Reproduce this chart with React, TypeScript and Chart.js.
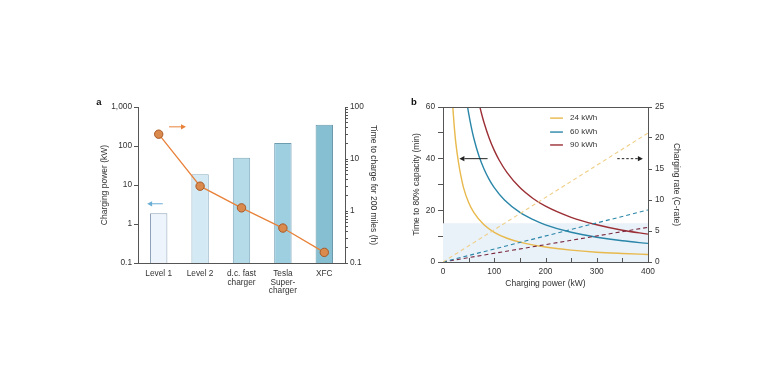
import React, { useEffect, useRef } from 'react';
import { Chart, registerables } from 'chart.js';
Chart.register(...registerables);

// ---------- Panel a data ----------
const chargerCategories: (string | string[])[] = ['Level 1', 'Level 2', ['d.c. fast', 'charger'], ['Tesla', 'Super-', 'charger'], 'XFC'];
const chargingPowerKW = [1.9, 19, 50, 120, 350];
const hoursFor200Miles = [30, 3.0, 1.15, 0.47, 0.16];
const powerAxisTicks = [0.1, 1, 10, 100, 1000];
const hoursAxisTicks = [0.1, 0.2, 0.3, 0.4, 0.5, 0.6, 0.7, 0.8, 0.9, 1, 2, 3, 4, 5, 6, 7, 8, 9, 10, 20, 30, 40, 50, 60, 70, 80, 90, 100];
const hoursAxisLabels = [0.1, 1, 10, 100];

// ---------- Panel b data ----------
const power24 = [19.2, 20, 22, 25, 30, 35, 40, 50, 60, 80, 100, 125, 150, 200, 250, 300, 350, 400];
const time24 = [60, 57.6, 52.4, 46.1, 38.8, 33.2, 28.8, 23.0, 19.2, 14.4, 11.5, 9.2, 7.7, 5.8, 4.6, 3.8, 3.3, 2.9];
const power60 = [48, 50, 55, 60, 70, 80, 90, 100, 120, 150, 175, 200, 250, 300, 350, 400];
const time60 = [60, 57.6, 52.4, 48, 41.1, 36, 32, 28.8, 24, 19.2, 16.5, 14.4, 11.5, 9.6, 8.2, 7.2];
const power90 = [72, 75, 80, 90, 100, 110, 125, 150, 175, 200, 250, 300, 350, 400];
const time90 = [60, 57.6, 54, 48, 43.2, 39.3, 34.6, 28.8, 24.7, 21.6, 17.3, 14.4, 12.3, 10.8];
const ratePower = [0, 400];
const rate24 = [0, 20.8];
const rate60 = [0, 8.4];
const rate90 = [0, 5.6];
const batteryLabels = ['24 kWh', '60 kWh', '90 kWh'];
const fastChargeTargetMin = 15;

// ---------- styles ----------
const FONT = 'Liberation Sans, Arial, Helvetica, sans-serif';
const TXT = '#333333';
const AX = '#555555';
const barFills = ['#eef4fb', '#d3e9f3', '#b5dbe8', '#9dcfe1', '#85bfd1'];
const barBorders = ['#8fa3b8', '#8fb0c2', '#7fa9bb', '#6f9db0', '#6a98aa'];
const ORANGE = '#e8823a';
const YEL = '#e8b94c';
const YEL_D = '#f0cf86';
const BLU = '#2a86a8';
const RED = '#9b2f35';
const RED_D = '#7a2a40';

const pts = (xs: number[], ys: number[]) => xs.map((x, i) => ({ x, y: ys[i] }));

function arrow(ctx: CanvasRenderingContext2D, x1: number, y1: number, x2: number, y2: number, color: string, dashed = false) {
  ctx.save();
  ctx.strokeStyle = color;
  ctx.fillStyle = color;
  ctx.lineWidth = 1;
  const ang = Math.atan2(y2 - y1, x2 - x1);
  const hl = 5, hw = 2.6;
  const bx = x2 - hl * Math.cos(ang), by = y2 - hl * Math.sin(ang);
  if (dashed) ctx.setLineDash([2.5, 2]);
  ctx.beginPath();
  ctx.moveTo(x1, y1);
  ctx.lineTo(bx, by);
  ctx.stroke();
  ctx.setLineDash([]);
  ctx.beginPath();
  ctx.moveTo(x2, y2);
  ctx.lineTo(bx - hw * Math.sin(ang), by + hw * Math.cos(ang));
  ctx.lineTo(bx + hw * Math.sin(ang), by - hw * Math.cos(ang));
  ctx.closePath();
  ctx.fill();
  ctx.restore();
}

const tickFont = { family: FONT, size: 8.3 };
const titleFont = { family: FONT, size: 8.5 };

function PanelA() {
  const ref = useRef<HTMLCanvasElement>(null);
  useEffect(() => {
    const annoA = {
      id: 'annoA',
      afterDatasetsDraw(chart: any) {
        const { ctx, scales } = chart;
        const x = scales.x, y = scales.y;
        arrow(ctx, x.getPixelForValue(0.25), y.getPixelForValue(310), x.getPixelForValue(0.66), y.getPixelForValue(310), ORANGE);
        arrow(ctx, x.getPixelForValue(0.1), y.getPixelForValue(3.3), x.getPixelForValue(-0.28), y.getPixelForValue(3.3), '#6aaed6');
        ctx.save();
        ctx.fillStyle = '#111';
        ctx.font = `bold 9.5px ${FONT}`;
        ctx.textAlign = 'center';
        ctx.textBaseline = 'middle';
        ctx.fillText('a', 19, 12);
        ctx.restore();
      },
    };
    const chart = new Chart(ref.current!, {
      type: 'bar',
      data: {
        labels: chargerCategories as any,
        datasets: [
          {
            type: 'line',
            data: hoursFor200Miles,
            yAxisID: 'y1',
            borderColor: ORANGE,
            borderWidth: 1.3,
            pointRadius: 4.2,
            pointBackgroundColor: '#d98a4c',
            pointBorderColor: '#a85a28',
            pointBorderWidth: 1,
            order: 0,
          } as any,
          {
            type: 'bar',
            data: chargingPowerKW,
            yAxisID: 'y',
            backgroundColor: barFills,
            borderColor: barBorders,
            borderWidth: 1,
            borderSkipped: 'bottom',
            barPercentage: 0.42,
            categoryPercentage: 1,
            order: 1,
          } as any,
        ],
      },
      options: {
        animation: false,
        responsive: false,
        devicePixelRatio: 1,
        layout: { padding: { top: 17, left: 0, right: 0, bottom: 0 } },
        plugins: { legend: { display: false }, tooltip: { enabled: false } },
        scales: {
          x: {
            grid: { display: false, drawTicks: false },
            border: { display: true, color: AX, width: 1 },
            ticks: { font: { family: FONT, size: 8.3, lineHeight: 1.0 }, color: TXT, padding: 7, maxRotation: 0, autoSkip: false },
            afterFit: (s: any) => { s.height = 67; },
          },
          y: {
            type: 'logarithmic',
            position: 'left',
            min: 0.1,
            max: 1000,
            afterBuildTicks: (s: any) => { s.ticks = powerAxisTicks.map((v) => ({ value: v })); },
            ticks: {
              font: tickFont, color: TXT, padding: 2,
              callback: (v: any) => (Number(v) >= 1000 ? '1,000' : String(Number(v))),
            },
            grid: { drawOnChartArea: false, color: AX, tickLength: 4 },
            border: { display: true, color: AX, width: 1 },
            title: { display: true, text: 'Charging power (kW)', font: titleFont, color: TXT, padding: { top: 20, bottom: 0 } },
            afterFit: (s: any) => { s.width = 58; },
          },
          y1: {
            type: 'logarithmic',
            position: 'right',
            min: 0.1,
            max: 100,
            afterBuildTicks: (s: any) => { s.ticks = hoursAxisTicks.map((v) => ({ value: v })); },
            ticks: {
              font: tickFont, color: TXT, padding: 2, autoSkip: false,
              callback: (v: any) => (hoursAxisLabels.includes(Number(v)) ? String(Number(v)) : ''),
            },
            grid: { drawOnChartArea: false, color: AX, tickLength: 3 },
            border: { display: true, color: AX, width: 1 },
            title: { display: true, text: 'Time to charge for 200 miles (h)', font: titleFont, color: TXT, padding: { top: 7, bottom: 0 } },
            afterFit: (s: any) => { s.width = 40; },
          },
        },
      } as any,
      plugins: [annoA],
    });
    return () => chart.destroy();
  }, []);
  return <canvas ref={ref} width={305} height={240} style={{ position: 'absolute', left: 80, top: 90, width: 305, height: 240 }} />;
}

function PanelB() {
  const ref = useRef<HTMLCanvasElement>(null);
  useEffect(() => {
    const annoB = {
      id: 'annoB',
      beforeDatasetsDraw(chart: any) {
        const { ctx, chartArea, scales } = chart;
        const yTop = scales.y.getPixelForValue(fastChargeTargetMin);
        ctx.save();
        ctx.fillStyle = '#e9f1f9';
        ctx.fillRect(chartArea.left, yTop, chartArea.right - chartArea.left, chartArea.bottom - yTop);
        ctx.restore();
      },
      afterDatasetsDraw(chart: any) {
        const { ctx, chartArea, scales } = chart;
        const x = scales.x, y = scales.y;
        ctx.save();
        ctx.strokeStyle = AX;
        ctx.lineWidth = 1;
        ctx.beginPath();
        ctx.moveTo(chartArea.left, chartArea.top + 0.5);
        ctx.lineTo(chartArea.right, chartArea.top + 0.5);
        ctx.stroke();
        for (let v = 50; v < 400; v += 50) {
          const px = Math.round(x.getPixelForValue(v)) + 0.5;
          ctx.beginPath();
          ctx.moveTo(px, chartArea.bottom);
          ctx.lineTo(px, chartArea.bottom - 4);
          ctx.stroke();
        }
        const cols = [YEL, BLU, RED];
        const ly = [55.7, 50.3, 45.3];
        ctx.font = `8px ${FONT}`;
        ctx.textBaseline = 'middle';
        ctx.textAlign = 'left';
        batteryLabels.forEach((lab, i) => {
          const yy = y.getPixelForValue(ly[i]);
          ctx.strokeStyle = cols[i];
          ctx.lineWidth = 1.4;
          ctx.beginPath();
          ctx.moveTo(x.getPixelForValue(209), yy);
          ctx.lineTo(x.getPixelForValue(234), yy);
          ctx.stroke();
          ctx.fillStyle = TXT;
          ctx.fillText(lab, x.getPixelForValue(248), yy);
        });
        ctx.restore();
        arrow(ctx, x.getPixelForValue(87), y.getPixelForValue(40), x.getPixelForValue(32), y.getPixelForValue(40), '#222');
        arrow(ctx, x.getPixelForValue(340), y.getPixelForValue(40), x.getPixelForValue(390), y.getPixelForValue(40), '#222', true);
        ctx.save();
        ctx.fillStyle = '#111';
        ctx.font = `bold 9.5px ${FONT}`;
        ctx.textAlign = 'center';
        ctx.textBaseline = 'middle';
        ctx.fillText('b', 24, 12);
        ctx.restore();
      },
    };
    const lineBase = { pointRadius: 0, borderWidth: 1.4, cubicInterpolationMode: 'monotone', fill: false };
    const dashBase = { pointRadius: 0, borderWidth: 1.1, borderDash: [4, 3], fill: false, yAxisID: 'y1' };
    const chart = new Chart(ref.current!, {
      type: 'line',
      data: {
        datasets: [
          { ...dashBase, data: pts(ratePower, rate24), borderColor: YEL_D } as any,
          { ...dashBase, data: pts(ratePower, rate60), borderColor: BLU } as any,
          { ...dashBase, data: pts(ratePower, rate90), borderColor: RED_D } as any,
          { ...lineBase, data: pts(power24, time24), borderColor: YEL, yAxisID: 'y' } as any,
          { ...lineBase, data: pts(power60, time60), borderColor: BLU, yAxisID: 'y' } as any,
          { ...lineBase, data: pts(power90, time90), borderColor: RED, yAxisID: 'y' } as any,
        ],
      },
      options: {
        animation: false,
        responsive: false,
        devicePixelRatio: 1,
        layout: { padding: { top: 17, left: 0, right: 0, bottom: 0 } },
        plugins: { legend: { display: false }, tooltip: { enabled: false } },
        scales: {
          x: {
            type: 'linear',
            min: 0,
            max: 400,
            ticks: { stepSize: 50, font: tickFont, color: TXT, padding: 5, maxRotation: 0, autoSkip: false,
              callback: (v: any) => (Number(v) % 100 === 0 ? String(v) : '') },
            grid: { display: false, drawTicks: false },
            border: { display: true, color: AX, width: 1 },
            title: { display: true, text: 'Charging power (kW)', font: titleFont, color: TXT, padding: { top: 0, bottom: 21 } },
            afterFit: (s: any) => { s.height = 48; },
          },
          y: {
            position: 'left',
            min: 0,
            max: 60,
            ticks: { stepSize: 10, font: tickFont, color: TXT, padding: 3,
              callback: (v: any) => (Number(v) % 20 === 0 ? String(v) : '') },
            grid: { drawOnChartArea: false, color: AX, tickLength: 5 },
            border: { display: true, color: AX, width: 1 },
            title: { display: true, text: 'Time to 80% capacity (min)', font: titleFont, color: TXT, padding: { top: 22, bottom: 0 } },
            afterFit: (s: any) => { s.width = 53; },
          },
          y1: {
            position: 'right',
            min: 0,
            max: 25,
            ticks: { stepSize: 5, font: tickFont, color: TXT, padding: 3 },
            grid: { drawOnChartArea: false, color: AX, tickLength: 4 },
            border: { display: true, color: AX, width: 1 },
            title: { display: true, text: 'Charging rate (C-rate)', font: titleFont, color: TXT, padding: { top: 19, bottom: 0 } },
            afterFit: (s: any) => { s.width = 52; },
          },
        },
      } as any,
      plugins: [annoB],
    });
    return () => chart.destroy();
  }, []);
  return <canvas ref={ref} width={310} height={220} style={{ position: 'absolute', left: 390, top: 90, width: 310, height: 220 }} />;
}

export default function App() {
  return (
    <div style={{ position: 'fixed', left: 0, top: 0, width: 770, height: 385, background: '#fff', overflow: 'hidden' }}>
      <PanelA />
      <PanelB />
    </div>
  );
}
